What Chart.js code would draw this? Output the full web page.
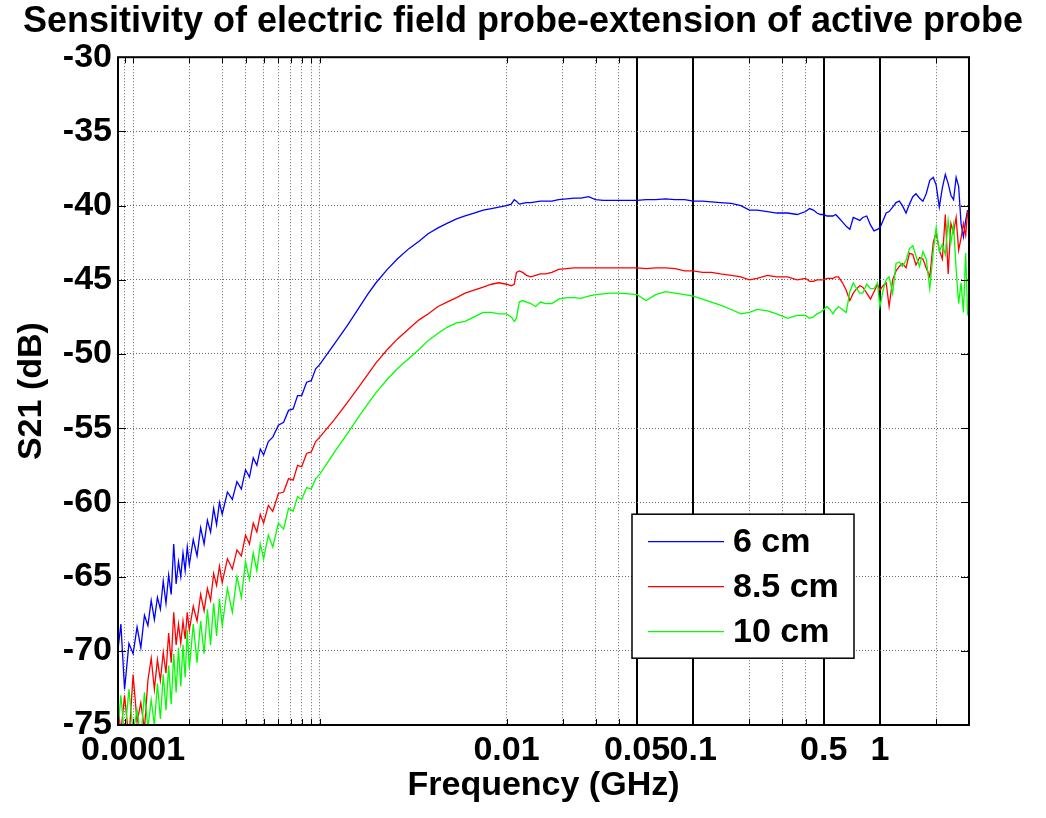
<!DOCTYPE html>
<html>
<head>
<meta charset="utf-8">
<script src="https://cdn.jsdelivr.net/npm/chart.js@4.4.1/dist/chart.umd.min.js"></script>
<style>
  html, body { margin: 0; padding: 0; background: #fff; }
  #wrap { width: 1046px; height: 818px; position: relative; }
</style>
</head>
<body>
<div id="wrap"><canvas id="probe_chart"></canvas></div>
<script>
// frequency in GHz, S21 in dB
const freq = [
  8.2e-5, 8.6e-5, 9.0e-5, 9.5e-5,
  1.00e-4, 1.05e-4, 1.10e-4, 1.15e-4, 1.20e-4, 1.25e-4, 1.30e-4, 1.35e-4, 1.40e-4, 1.45e-4,
  1.50e-4, 1.55e-4, 1.60e-4, 1.65e-4, 1.70e-4, 1.75e-4, 1.80e-4, 1.85e-4, 1.90e-4, 1.95e-4,
  2.0e-4, 2.1e-4, 2.2e-4, 2.3e-4, 2.4e-4, 2.5e-4, 2.6e-4, 2.7e-4, 2.8e-4, 2.9e-4, 3.0e-4,
  3.2e-4, 3.4e-4, 3.6e-4, 3.8e-4, 4.0e-4, 4.2e-4, 4.4e-4, 4.6e-4, 4.8e-4, 5.0e-4,
  5.3e-4, 5.6e-4, 6.0e-4, 6.4e-4, 6.8e-4, 7.2e-4, 7.6e-4, 8.0e-4, 8.5e-4, 9.0e-4, 9.5e-4, 1.0e-3,
  1.2e-3, 1.4e-3, 1.6e-3, 1.8e-3, 2.0e-3, 2.3e-3, 2.6e-3, 3.0e-3, 3.4e-3, 3.8e-3,
  4.3e-3, 4.8e-3, 5.4e-3, 6.0e-3, 6.7e-3, 7.5e-3, 8.3e-3, 9.1e-3, 1.0e-2,
  0.0106, 0.011, 0.0113, 0.0117, 0.0122, 0.0128, 0.0135, 0.0143, 0.0152, 0.0162,
  0.0175, 0.019, 0.021, 0.023, 0.025, 0.0275, 0.03, 0.033, 0.036, 0.04,
  0.045, 0.05, 0.056, 0.063, 0.071, 0.08, 0.09, 0.1, 0.112, 0.125,
  0.14, 0.16, 0.18, 0.2, 0.22, 0.25, 0.28, 0.32, 0.36, 0.4,
  0.42, 0.44, 0.46, 0.48, 0.5, 0.52, 0.54, 0.56, 0.58, 0.6,
  0.63, 0.66, 0.69, 0.72, 0.75, 0.78, 0.81, 0.85, 0.89, 0.93,
  0.97, 1.0, 1.04, 1.08, 1.12, 1.17, 1.22, 1.27, 1.32, 1.38,
  1.44, 1.5, 1.56, 1.63, 1.7, 1.77, 1.85, 1.93, 2.0, 2.08,
  2.16, 2.24, 2.32, 2.4, 2.48, 2.56, 2.64, 2.72, 2.8, 2.88,
  2.95
];

const s21_6cm = [
  -70.5, -68.2, -72.6, -69.5,
  -70.2, -68.4, -69.8, -67.6, -68.3, -66.6, -67.9, -66.4, -67.2, -65.3,
  -66.8, -64.9, -66.2, -62.8, -65.5, -64.0, -65.0, -63.4, -64.6, -63.0,
  -64.2, -62.5, -63.6, -61.7, -62.8, -61.2, -62.0, -60.4, -61.5, -60.0, -60.8,
  -59.3, -59.8, -58.6, -59.1, -57.8, -58.3, -57.0, -57.5, -56.4, -56.8,
  -55.9, -55.6, -54.8, -54.6, -53.8, -53.7, -52.8, -52.8, -51.9, -51.8, -51.0, -50.7,
  -49.3, -48.1, -47.0, -46.0, -45.2, -44.3, -43.6, -42.9, -42.4, -41.9,
  -41.5, -41.2, -40.9, -40.7, -40.5, -40.3, -40.2, -40.1, -40.0,
  -39.9, -39.6, -39.7, -39.9, -39.85, -39.8, -39.8, -39.75, -39.7, -39.7,
  -39.7, -39.6, -39.55, -39.5, -39.5, -39.4, -39.6, -39.65, -39.65, -39.65,
  -39.65, -39.65, -39.6, -39.6, -39.55, -39.6, -39.6, -39.7, -39.7, -39.75,
  -39.8, -39.85, -40.0, -40.3, -40.3, -40.4, -40.5, -40.5, -40.6, -40.4,
  -40.2, -40.3, -40.5, -40.6, -40.6, -40.7, -40.7, -40.7, -40.6, -40.8,
  -41.1, -41.4, -41.6, -40.8, -40.9, -41.0, -40.8, -40.7, -41.3, -41.7,
  -41.6, -41.5, -41.0, -40.5, -40.4, -40.1, -39.8, -39.7, -40.0, -40.5,
  -39.9, -39.4, -39.2, -39.5, -39.7, -39.2, -38.3, -38.1, -38.6, -40.1,
  -38.8, -37.9, -38.5, -39.3, -39.6, -38.1, -38.7, -41.2, -42.1, -41.0,
  -40.3
];

const s21_85cm = [
  -73.2, -75.5, -73.0, -76.0,
  -71.6, -74.8, -73.5, -75.3, -72.0, -70.5, -72.6, -70.6, -72.0, -70.1,
  -71.5, -68.8, -70.8, -67.4, -69.6, -68.2, -69.5, -68.0, -69.2, -67.4,
  -68.6, -67.0, -68.0, -66.2, -67.3, -65.8, -66.6, -64.8, -65.6, -64.3, -65.4,
  -63.8, -64.5, -63.2, -63.6, -62.2, -62.8, -61.4, -62.0, -60.8, -61.4,
  -60.2, -60.6, -59.4, -59.3, -58.4, -58.5, -57.5, -57.6, -56.7, -56.6, -55.9, -55.6,
  -54.4, -53.3, -52.3, -51.4, -50.6, -49.7, -49.0, -48.3, -47.7, -47.3,
  -46.8, -46.5, -46.2, -45.9, -45.7, -45.5, -45.3, -45.2, -45.3,
  -45.4, -45.3, -44.5, -44.4, -44.5, -44.7, -44.8, -44.7, -44.6, -44.6,
  -44.5, -44.3, -44.25, -44.2, -44.2, -44.2, -44.2, -44.2, -44.2, -44.2,
  -44.2, -44.2, -44.25, -44.2, -44.2, -44.25, -44.4, -44.4, -44.5, -44.5,
  -44.6, -44.7, -44.8, -45.0, -44.9, -44.7, -44.8, -44.8, -45.0, -44.9,
  -45.1, -45.1, -45.0, -45.0, -45.0, -44.9, -44.9, -44.9, -44.8, -44.8,
  -45.2, -45.7, -46.4, -45.9, -45.6, -45.4, -45.5, -45.9, -46.3, -45.8,
  -45.3, -45.7, -45.4, -45.2, -46.8, -45.0, -44.4, -44.1, -43.9, -44.2,
  -43.2, -43.3, -44.0, -43.5, -43.6, -44.2, -44.8, -42.5, -41.8, -43.0,
  -43.6, -40.6, -44.6, -41.2, -41.8, -40.8, -43.0, -42.2, -41.2, -42.0,
  -40.4
];

const s21_10cm = [
  -76.0, -73.0, -75.8, -72.6,
  -75.5, -74.0, -76.0, -72.8, -75.2, -73.3, -75.0, -72.2, -74.6, -71.6,
  -74.0, -71.0, -73.6, -70.2, -72.8, -69.8, -72.4, -69.6, -71.8, -68.6,
  -71.2, -68.2, -70.8, -68.0, -70.2, -67.2, -69.6, -66.8, -69.0, -66.5, -68.3,
  -65.8, -67.4, -65.0, -66.4, -64.0, -65.2, -63.4, -64.6, -62.8, -63.8,
  -62.2, -63.0, -61.4, -61.8, -60.4, -60.6, -59.6, -59.8, -59.0, -59.1, -58.4, -58.1,
  -56.6, -55.4, -54.3, -53.4, -52.6, -51.7, -51.0, -50.3, -49.7, -49.1,
  -48.6, -48.2, -47.9, -47.8, -47.5, -47.2, -47.2, -47.3, -47.3,
  -47.5, -47.8, -47.6, -46.5, -46.4, -46.5, -46.6, -46.8, -46.5, -46.6,
  -46.6, -46.3, -46.2, -46.2, -46.25, -46.1, -46.0, -45.95, -45.9, -45.9,
  -45.95, -46.0, -46.4, -46.0, -45.8, -45.9, -46.0, -46.1, -46.3, -46.5,
  -46.7, -47.0, -47.3, -47.2, -47.0, -47.1, -47.3, -47.6, -47.4, -47.4,
  -47.6, -47.5, -47.3, -47.2, -47.0, -46.8, -47.0, -47.3, -47.0, -46.8,
  -47.0, -47.2, -45.8, -45.2, -45.6, -45.9, -45.9, -45.3, -45.6, -45.6,
  -45.2, -46.8, -45.7, -45.0, -44.8, -45.9, -43.9, -43.8, -44.1, -43.7,
  -42.9, -42.7, -43.4, -44.1, -43.1, -43.6, -45.6, -43.1, -41.5, -43.1,
  -42.6, -43.3, -41.0, -42.5, -41.3, -44.3, -46.6, -45.2, -47.2, -43.2,
  -47.4
];

const series_labels = ["6 cm", "8.5 cm", "10 cm"];
const series_values = [s21_6cm, s21_85cm, s21_10cm];
const series_colours = ["#0000ff", "#ff0000", "#00ff00"];

const x_tick_values = [0.0001, 0.01, 0.05, 0.1, 0.5, 1];
const x_tick_labels = ["0.0001", "0.01", "0.05", "0.1", "0.5", "1"];
const x_grid_values = [9e-5, 1e-4, 2e-4, 3e-4, 4e-4, 5e-4, 6e-4, 7e-4, 8e-4, 9e-4, 1e-3,
  0.01, 0.02, 0.03, 0.04, 0.05, 0.1, 0.2, 0.3, 0.4, 0.5, 1, 2];
const x_heavy_values = [0.05, 0.1, 0.5, 1];
const y_tick_values = [-30, -35, -40, -45, -50, -55, -60, -65, -70, -75];

const font_family = "'Liberation Sans', Arial, Helvetica, sans-serif";
Chart.defaults.font.family = font_family;
Chart.defaults.color = "#000";

const isHeavy = (ctx) => ctx.tick && x_heavy_values.includes(ctx.tick.value);

// MATLAB style box round the axes, with small inward ticks
const axesBox = {
  id: "axesBox",
  afterDatasetsDraw(chart) {
    const { ctx, chartArea: a, scales } = chart;
    ctx.save();
    ctx.strokeStyle = "#000";
    ctx.lineWidth = 1;
    ctx.beginPath();
    scales.x.ticks.forEach(t => {
      const px = Math.round(scales.x.getPixelForValue(t.value)) + 0.5;
      ctx.moveTo(px, a.top); ctx.lineTo(px, a.top + 6);
      ctx.moveTo(px, a.bottom); ctx.lineTo(px, a.bottom - 6);
    });
    scales.y.ticks.forEach(t => {
      const py = Math.round(scales.y.getPixelForValue(t.value)) + 0.5;
      ctx.moveTo(a.left, py); ctx.lineTo(a.left + 8, py);
      ctx.moveTo(a.right, py); ctx.lineTo(a.right - 8, py);
    });
    ctx.stroke();
    ctx.lineWidth = 2;
    ctx.strokeRect(a.left, a.top, a.right - a.left, a.bottom - a.top);
    ctx.restore();
  }
};

// boxed legend sitting inside the plot, lower right
const boxLegend = {
  id: "boxLegend",
  afterDraw(chart) {
    const { ctx, chartArea: a } = chart;
    const left = a.left + 514, top = a.top + 457, w = 222, h = 144;
    ctx.save();
    ctx.fillStyle = "#fff";
    ctx.fillRect(left, top, w, h);
    ctx.strokeStyle = "#000";
    ctx.lineWidth = 1.5;
    ctx.strokeRect(left, top, w, h);
    ctx.font = "bold 34px " + font_family;
    ctx.textBaseline = "middle";
    ctx.textAlign = "left";
    chart.data.datasets.slice().sort((p, q) => p.legendIndex - q.legendIndex).forEach((ds, i) => {
      const y = top + 27 + i * 45;
      ctx.strokeStyle = ds.borderColor;
      ctx.lineWidth = 1.3;
      ctx.beginPath();
      ctx.moveTo(left + 16, y + 0.5); ctx.lineTo(left + 92, y + 0.5);
      ctx.stroke();
      ctx.fillStyle = "#000";
      ctx.fillText(ds.label, left + 101, y + 1);
    });
    ctx.restore();
  }
};

const datasets = series_labels.map((label, i) => ({
  label: label,
  legendIndex: i,
  data: freq.map((f, k) => ({ x: f, y: series_values[i][k] })),
  borderColor: series_colours[i],
  backgroundColor: series_colours[i],
  borderWidth: 1.3,
  pointRadius: 0,
  tension: 0,
  order: series_labels.length - i
}));

new Chart(document.getElementById("probe_chart").getContext("2d"), {
  type: "line",
  data: { datasets: datasets },
  options: {
    responsive: true,
    maintainAspectRatio: false,
    animation: false,
    layout: { padding: 0 },
    plugins: {
      legend: { display: false },
      tooltip: { enabled: false },
      title: {
        display: true,
        text: "Sensitivity of electric field probe-extension of active probe",
        font: { size: 36, weight: "bold" },
        color: "#000",
        padding: { top: 0, bottom: 14 }
      }
    },
    scales: {
      x: {
        type: "logarithmic",
        min: 8.3e-5,
        max: 3,
        afterFit: s => { s.height = 93; },
        afterBuildTicks: s => { s.ticks = x_grid_values.map(v => ({ value: v })); },
        ticks: {
          autoSkip: false,
          maxRotation: 0,
          minRotation: 0,
          padding: 5,
          font: { size: 34, weight: "bold" },
          color: "#000",
          callback: function (value) {
            const i = x_tick_values.indexOf(value);
            return i >= 0 ? x_tick_labels[i] : "";
          }
        },
        grid: {
          drawTicks: false,
          color: ctx => isHeavy(ctx) ? "#000" : "#6a6a6a",
          lineWidth: ctx => isHeavy(ctx) ? 2 : 1
        },
        border: { display: false, dash: ctx => isHeavy(ctx) ? [] : [1, 2] },
        title: {
          display: true,
          text: "Frequency (GHz)",
          font: { size: 34, weight: "bold" },
          color: "#000",
          padding: { top: 0, bottom: 12 }
        }
      },
      y: {
        min: -75,
        max: -30,
        afterFit: s => { s.width = 118; },
        afterBuildTicks: s => { s.ticks = y_tick_values.map(v => ({ value: v })); },
        ticks: {
          padding: 6,
          font: { size: 34, weight: "bold" },
          color: "#000",
          callback: value => String(value)
        },
        grid: { drawTicks: false, color: "#6a6a6a", lineWidth: 1 },
        border: { display: false, dash: [1, 2] },
        title: {
          display: true,
          text: "S21 (dB)",
          font: { size: 34, weight: "bold" },
          color: "#000",
          padding: { top: 11, bottom: 0 }
        }
      },
      // empty right-hand strip, keeps the plot box clear of the page edge
      spacer: {
        position: "right",
        display: true,
        afterFit: s => { s.width = 77; },
        ticks: { display: false },
        grid: { display: false, drawTicks: false },
        border: { display: false }
      }
    }
  },
  plugins: [axesBox, boxLegend]
});
</script>
</body>
</html>
